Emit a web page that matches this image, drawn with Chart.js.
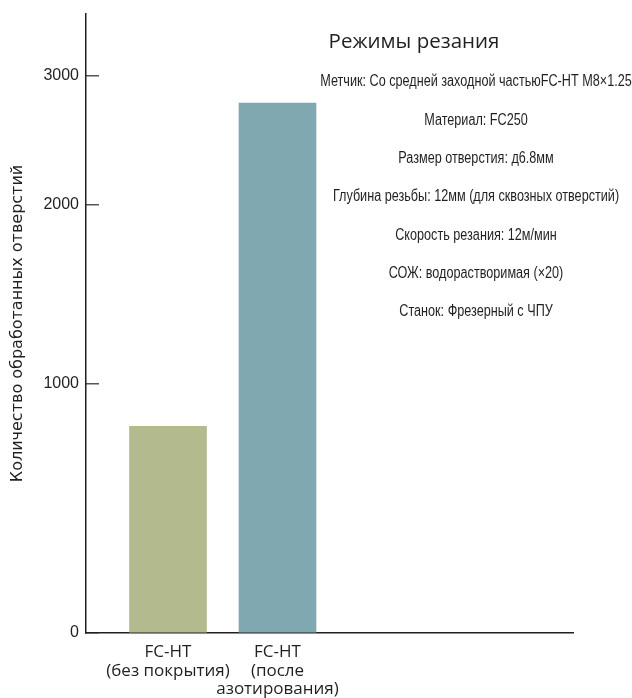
<!DOCTYPE html>
<html lang="ru">
<head>
<meta charset="UTF-8">
<title>Режимы резания</title>
<script src="https://cdn.jsdelivr.net/npm/chart.js"></script>
<style>
  html, body { margin: 0; padding: 0; background: #fff; }
  #wrap { width: 632px; height: 698px; }
</style>
</head>
<body>
<div id="wrap"><canvas id="myChart"></canvas></div>
<script>
const categories = [['FC-HT', '(без покрытия)'], ['FC-HT', '(после', 'азотирования)']];
const holeCounts = [830, 2790];
const barColors = ['#b3ba8d', '#7fa8b1'];
const yTicks = [0, 1000, 2000, 3000];
const yTitle = 'Количество обработанных отверстий';
const notesTitle = 'Режимы резания';
const notes = [
  'Метчик: Со средней заходной частьюFC-HT M8×1.25',
  'Материал: FC250',
  'Размер отверстия: д6.8мм',
  'Глубина резьбы: 12мм (для сквозных отверстий)',
  'Скорость резания: 12м/мин',
  'СОЖ: водорастворимая (×20)',
  'Станок: Фрезерный с ЧПУ'
];

// the y axis in the original is not linear: each 1000 gets a shorter step
class PiecewiseScale extends Chart.LinearScale {
  static id = 'piecewise';
  static defaults = Chart.LinearScale.defaults;
  _frac(value) {
    const v = this.options.stops, f = this.options.fracs;
    if (value <= v[0]) return f[0];
    for (let i = 1; i < v.length; i++) {
      if (value <= v[i]) return f[i - 1] + (value - v[i - 1]) / (v[i] - v[i - 1]) * (f[i] - f[i - 1]);
    }
    return f[f.length - 1];
  }
  getPixelForValue(value) {
    return this.getPixelForDecimal(this._frac(value));
  }
  getValueForPixel(pixel) {
    const d = this.getDecimalForPixel(pixel);
    const v = this.options.stops, f = this.options.fracs;
    for (let i = 1; i < f.length; i++) {
      if (d <= f[i]) return v[i - 1] + (d - f[i - 1]) / (f[i] - f[i - 1]) * (v[i] - v[i - 1]);
    }
    return v[v.length - 1];
  }
}
Chart.register(PiecewiseScale);

// condensed text block in the upper right
const notesPlugin = {
  id: 'notes',
  afterDraw(chart) {
    const ctx = chart.ctx;
    ctx.save();
    ctx.fillStyle = '#231f20';
    ctx.textAlign = 'center';
    ctx.textBaseline = 'middle';
    ctx.font = '20.5px "Open Sans"';
    ctx.fillText(notesTitle, 414, 42);
    ctx.font = '16px "Liberation Sans"';
    const sx = 0.79;
    ctx.scale(sx, 1);
    notes.forEach((t, i) => ctx.fillText(t, 476 / sx, 82 + i * 38.3));
    ctx.restore();
  }
};

const ctx = document.getElementById('myChart');
new Chart(ctx, {
  type: 'bar',
  data: {
    datasets: [{
      data: holeCounts.map((v, i) => ({ x: i + 1, y: v })),
      backgroundColor: barColors,
      barThickness: 77,
      borderWidth: 0
    }]
  },
  options: {
    responsive: true,
    maintainAspectRatio: false,
    animation: false,
    layout: { padding: { left: 0, right: 59, top: 14, bottom: 0 } },
    plugins: { legend: { display: false }, tooltip: { enabled: false } },
    scales: {
      x: {
        type: 'linear',
        offset: false,
        min: 0.251,
        max: 4.699,
        grid: { display: false },
        border: { color: '#231f20', width: 1.5 },
        afterBuildTicks: s => { s.ticks = categories.map((c, i) => ({ value: i + 1 })); },
        afterFit: s => { s.height = 65; s.paddingLeft = 0; s.paddingRight = 0; },
        ticks: {
          autoSkip: false,
          maxRotation: 0,
          padding: 2,
          color: '#231f20',
          font: { family: '"Open Sans"', size: 17, lineHeight: '18.5px' },
          callback: v => categories[v - 1]
        }
      },
      y: {
        type: 'piecewise',
        min: 0,
        max: 3480,
        stops: [0, 1000, 2000, 3000, 3480],
        fracs: [0, 0.4023, 0.6922, 0.8998, 1],
        afterBuildTicks: s => { s.ticks = yTicks.map(v => ({ value: v })); },
        afterFit: s => { s.width = 86; s.paddingTop = 0; s.paddingBottom = 0; },
        grid: { drawOnChartArea: false, tickLength: -13, color: '#555', lineWidth: 1.5 },
        border: { color: '#231f20', width: 1.5 },
        ticks: {
          padding: 20,
          color: '#231f20',
          font: { family: '"Liberation Sans"', size: 16 },
          callback: v => String(v)
        },
        title: {
          display: true,
          text: yTitle,
          color: '#231f20',
          padding: { top: 8, bottom: 0 },
          font: { family: '"DejaVu Sans"', size: 16, lineHeight: 1.2 }
        }
      }
    }
  },
  plugins: [notesPlugin]
});
</script>
</body>
</html>
